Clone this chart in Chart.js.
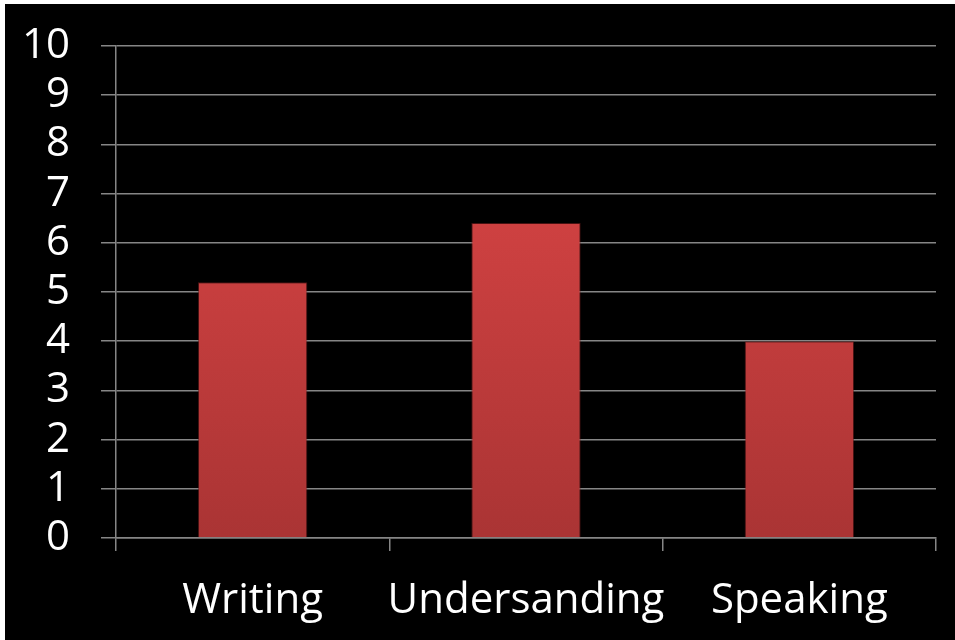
<!DOCTYPE html>
<html>
<head>
<meta charset="utf-8">
<script src="https://cdn.jsdelivr.net/npm/chart.js@4"></script>
<style>
    html, body { margin: 0; padding: 0; background: #ffffff; }
    #wrap { position: absolute; left: 5px; top: 4px; width: 950px; height: 636px; background: #000000; }
</style>
</head>
<body>
<div id="wrap"><canvas id="skillsChart"></canvas></div>
<script>
const categories = ["Writing", "Undersanding", "Speaking"];
const scores = [5.2, 6.4, 4.0];
const yTicks = [0, 1, 2, 3, 4, 5, 6, 7, 8, 9, 10];

const gridColor = "#868686";
const fontSpec = { family: "'Open Sans', sans-serif", size: 42 };

// vertical red gradient like the office bar style
function barFill(context) {
    const chart = context.chart;
    const area = chart.chartArea;
    if (!area) return "#d64040";
    const g = chart.ctx.createLinearGradient(0, area.top, 0, area.bottom);
    g.addColorStop(0, "#e24848");
    g.addColorStop(1, "#aa3434");
    return g;
}

const ctx = document.getElementById("skillsChart").getContext("2d");
new Chart(ctx, {
    type: "bar",
    data: {
        labels: categories,
        datasets: [{
            data: scores,
            backgroundColor: barFill,
            borderColor: "rgba(120, 30, 30, 0.6)",
            borderWidth: 1,
            barPercentage: 0.8,
            categoryPercentage: 0.5
        }]
    },
    options: {
        responsive: true,
        maintainAspectRatio: false,
        animation: false,
        layout: { padding: { top: 42, right: 19, left: 0, bottom: 0 } },
        plugins: {
            legend: { display: false },
            tooltip: { enabled: false }
        },
        scales: {
            x: {
                grid: {
                    display: true,
                    drawOnChartArea: false,
                    offset: true,
                    color: gridColor,
                    lineWidth: 1.5,
                    tickLength: 13
                },
                border: { color: gridColor, width: 1.5 },
                ticks: { color: "#ffffff", font: fontSpec, padding: 25, maxRotation: 0, autoSkip: false },
                afterFit: (scale) => { scale.height = 102; }
            },
            y: {
                min: 0,
                max: 10,
                afterBuildTicks: (scale) => { scale.ticks = yTicks.map(v => ({ value: v })); },
                grid: { color: gridColor, lineWidth: 1.5, tickLength: 15 },
                border: { color: gridColor, width: 1.5 },
                ticks: { color: "#ffffff", font: fontSpec, padding: 31, autoSkip: false },
                afterFit: (scale) => {
                    scale.width = 111;
                    // tick padding would otherwise push the plot top down
                    scale.paddingTop = 0;
                    scale.paddingBottom = 0;
                }
            }
        }
    }
});
</script>
</body>
</html>
